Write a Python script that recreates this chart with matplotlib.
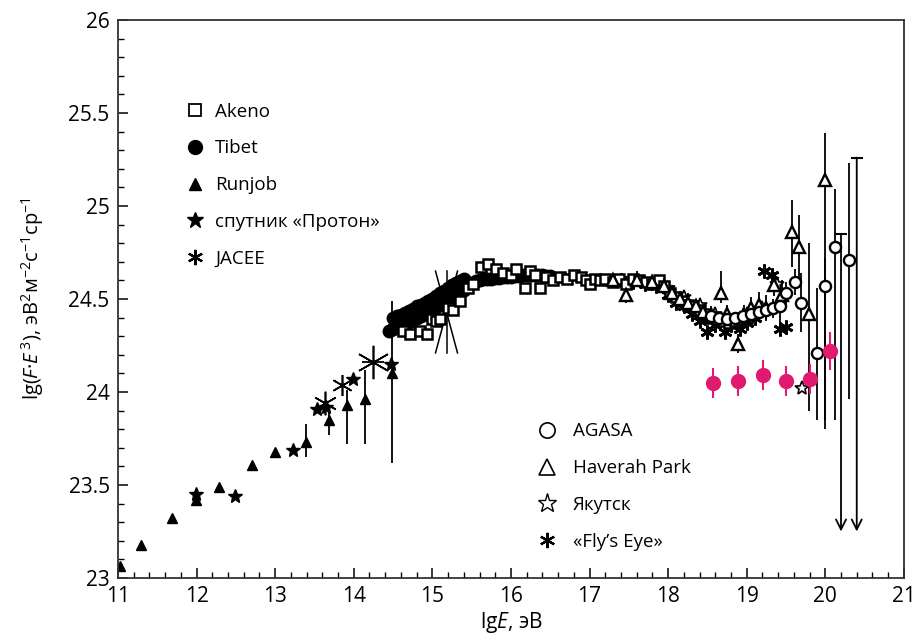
import matplotlib
matplotlib.use('Agg')
import matplotlib.pyplot as plt
from matplotlib.lines import Line2D
from matplotlib.ticker import MultipleLocator

plt.rcParams['font.family'] = ['Open Sans', 'DejaVu Sans']
plt.rcParams['mathtext.fontset'] = 'custom'
plt.rcParams['mathtext.rm'] = 'Open Sans'
plt.rcParams['mathtext.it'] = 'Open Sans:italic'

# --- данные (lg E, lg(F*E^3)) ---
runjob_x = [11.02, 11.29, 11.69, 11.99, 12.29, 12.70, 13.00, 13.39, 13.68, 13.92, 14.14, 14.49]
runjob_y = [23.065, 23.18, 23.32, 23.42, 23.49, 23.61, 23.68, 23.73, 23.85, 23.93, 23.96, 24.10]
runjob_lo = [0, 0, 0, 0, 0, 0, 0, 0.08, 0.08, 0.21, 0.24, 0.48]
runjob_hi = [0, 0, 0, 0, 0, 0, 0, 0.10, 0.07, 0.08, 0.16, 0.39]

proton_x = [11.99, 12.49, 13.23, 13.53, 13.65, 13.99, 14.47]
proton_y = [23.45, 23.44, 23.69, 23.91, 23.92, 24.07, 24.15]

jacee_x = [13.63, 13.85, 14.24, 14.52]
jacee_y = [23.94, 24.04, 24.16, 24.38]
jacee_xerr = [0, 0, 0.14, 0]
jacee_size = [17, 15, 24, 12]
# большие "бабочки" погрешностей JACEE
jacee_bx = [15.18]
jacee_by = [24.43]
jacee_bdx = [0.14]
jacee_bdy = [0.22]

tibet_x = [14.45, 14.50, 14.55, 14.60, 14.65, 14.70, 14.75, 14.80, 14.85, 14.90, 14.95,
           15.00, 15.05, 15.10, 15.15, 15.20, 15.25, 15.30, 15.35, 15.40, 15.45, 15.50,
           15.55, 15.60, 15.65, 15.70, 15.75, 15.80, 15.85, 15.90, 15.95, 16.00, 16.05,
           16.10, 16.15, 16.20, 16.25, 16.30, 16.35, 16.40, 16.45, 16.50]
tibet_y = [24.33, 24.34, 24.35, 24.355, 24.365, 24.375, 24.385, 24.40, 24.41, 24.42, 24.43,
           24.44, 24.455, 24.47, 24.485, 24.50, 24.515, 24.525, 24.535, 24.55, 24.575, 24.585,
           24.595, 24.60, 24.605, 24.61, 24.61, 24.615, 24.615, 24.62, 24.62, 24.62, 24.625,
           24.625, 24.63, 24.63, 24.63, 24.63, 24.63, 24.63, 24.625, 24.625]
tibet2_x = [14.50, 14.55, 14.60, 14.65, 14.70, 14.75, 14.80, 14.85, 14.90, 14.95,
            15.00, 15.05, 15.10, 15.15, 15.20, 15.25, 15.30, 15.35, 15.40]
tibet2_y = [24.40, 24.41, 24.415, 24.425, 24.435, 24.445, 24.46, 24.47, 24.48, 24.49,
            24.50, 24.515, 24.53, 24.545, 24.56, 24.575, 24.585, 24.595, 24.605]

akeno_x = [14.62, 14.71, 14.84, 14.93, 14.99, 15.05, 15.10, 15.20, 15.26, 15.35,
           15.45, 15.52, 15.62, 15.71, 15.81, 15.90, 16.00, 16.07, 16.18, 16.24,
           16.30, 16.37, 16.45, 16.54, 16.62, 16.71, 16.80, 16.89, 16.95, 17.00,
           17.07, 17.13, 17.20, 17.30, 17.38, 17.47, 17.55, 17.63, 17.72, 17.80,
           17.88, 17.95, 18.02, 18.10, 18.18, 18.25, 18.32, 18.40, 18.48, 18.55,
           18.62, 18.70, 18.78, 18.85, 18.92, 19.00]
akeno_y = [24.33, 24.31, 24.33, 24.31, 24.39, 24.38, 24.39, 24.45, 24.44, 24.49,
           24.56, 24.58, 24.67, 24.69, 24.66, 24.64, 24.63, 24.66, 24.56, 24.65,
           24.63, 24.56, 24.62, 24.60, 24.62, 24.61, 24.63, 24.62, 24.60, 24.58,
           24.61, 24.60, 24.61, 24.59, 24.61, 24.58, 24.61, 24.60, 24.59, 24.58,
           24.60, 24.57, 24.53, 24.51, 24.49, 24.47, 24.46, 24.44, 24.42, 24.40,
           24.39, 24.38, 24.37, 24.38, 24.39, 24.40]
akeno_err = 0.02

haverah_x = [17.30, 17.47, 17.60, 17.80, 17.95, 18.05, 18.15, 18.25, 18.35, 18.45, 18.55, 18.67,
             18.75, 18.89, 18.97, 19.05, 19.15, 19.25, 19.35, 19.45, 19.58, 19.67, 19.79, 19.99]
haverah_y = [24.60, 24.52, 24.60, 24.59, 24.57, 24.53, 24.50, 24.48, 24.46, 24.43, 24.41, 24.53,
             24.42, 24.26, 24.41, 24.45, 24.47, 24.45, 24.575, 24.52, 24.86, 24.78, 24.42, 25.14]
haverah_lo = [0.02, 0.04, 0.02, 0.02, 0.02, 0.03, 0.03, 0.04, 0.04, 0.04, 0.04, 0.05,
              0.05, 0.05, 0.05, 0.06, 0.06, 0.07, 0.06, 0.08, 0.19, 0.18, 0.52, 1.34]
haverah_hi = [0.02, 0.04, 0.05, 0.03, 0.06, 0.03, 0.04, 0.05, 0.04, 0.04, 0.05, 0.12,
              0.05, 0.05, 0.06, 0.06, 0.07, 0.07, 0.07, 0.08, 0.17, 0.17, 0.38, 0.25]

agasa_x = [18.55, 18.65, 18.75, 18.85, 18.95, 19.05, 19.15, 19.25, 19.33, 19.42, 19.50,
           19.61, 19.69, 19.90, 19.99, 20.12, 20.30]
agasa_y = [24.41, 24.40, 24.39, 24.40, 24.41, 24.42, 24.43, 24.44, 24.45, 24.46, 24.53,
           24.59, 24.48, 24.21, 24.57, 24.78, 24.71]
agasa_lo = [0.03, 0.03, 0.03, 0.03, 0.04, 0.04, 0.04, 0.05, 0.05, 0.12, 0.06,
            0.07, 0.16, 0.36, 0.72, 0.93, 0.75]
agasa_hi = [0.03, 0.03, 0.03, 0.03, 0.04, 0.04, 0.04, 0.05, 0.05, 0.06, 0.06,
            0.07, 0.16, 0.35, 0.15, 0.31, 0.52]
# верхние пределы AGASA
ul_x = [20.2, 20.4]
ul_top = [24.85, 25.26]
ul_bottom = 23.25

fly_x = [17.40, 17.55, 17.70, 17.85, 18.00, 18.10, 18.20, 18.30, 18.40, 18.50,
         18.60, 18.72, 18.80, 18.91, 19.00, 19.10, 19.22, 19.32, 19.42, 19.50]
fly_y = [24.60, 24.59, 24.58, 24.57, 24.52, 24.48, 24.46, 24.42, 24.38, 24.32,
         24.36, 24.32, 24.36, 24.34, 24.37, 24.40, 24.65, 24.63, 24.34, 24.35]

yak_x = [17.8, 18.0, 18.2, 18.4, 18.6, 18.8, 19.0, 19.2, 19.38, 19.70]
yak_y = [24.58, 24.56, 24.51, 24.47, 24.42, 24.38, 24.42, 24.45, 24.58, 24.02]

# новые данные (розовые точки)
new_x = [18.57, 18.89, 19.21, 19.50, 19.81, 20.06]
new_y = [24.05, 24.06, 24.09, 24.06, 24.07, 24.22]
new_err = [0.08, 0.08, 0.08, 0.08, 0.08, 0.10]

pink = '#e01a6e'
ast = (6, 2, 0)

fig = plt.figure(figsize=(9.17, 6.42), dpi=100)
ax = fig.add_axes([0.1287, 0.0997, 0.857, 0.8692])

eb = dict(ecolor='k', elinewidth=1.3, capsize=0, linestyle='none')

# низкие энергии
ax.errorbar(runjob_x, runjob_y, yerr=[runjob_lo, runjob_hi], marker='^', ms=7,
            mfc='k', mec='k', **eb)
ax.plot(proton_x, proton_y, '*', ms=10, color='k', linestyle='none')
for x, y, xe, s in zip(jacee_x, jacee_y, jacee_xerr, jacee_size):
    ax.errorbar(x, y, xerr=xe, marker=ast, ms=s, mec='k', mew=1.2, **eb)
for x, y, dx, dy in zip(jacee_bx, jacee_by, jacee_bdx, jacee_bdy):
    ax.plot([x - dx, x + dx], [y + dy, y - dy], color='k', lw=1.1)
    ax.plot([x + dx, x - dx], [y + dy, y - dy], color='k', lw=1.1)
    ax.plot([x, x], [y + dy, y - dy], color='k', lw=1.1)

# колено
ax.errorbar(akeno_x, akeno_y, yerr=akeno_err, marker='s', ms=7, mfc='white',
            mec='k', mew=1.8, **eb)
ax.plot(tibet_x, tibet_y, 'o', ms=9, color='k', linestyle='none')
ax.plot(tibet2_x, tibet2_y, 'o', ms=9, color='k', linestyle='none')

# высокие энергии
ax.plot(yak_x, yak_y, marker='*', ms=10, mfc='white', mec='k', mew=1.2, linestyle='none')
ax.errorbar(haverah_x, haverah_y, yerr=[haverah_lo, haverah_hi], marker='^', ms=8,
            mfc='white', mec='k', mew=1.7, **eb)
ax.errorbar(agasa_x, agasa_y, yerr=[agasa_lo, agasa_hi], marker='o', ms=8,
            mfc='white', mec='k', mew=1.7, **eb)
ax.plot(fly_x, fly_y, marker=ast, ms=10, mec='k', mew=2.0, linestyle='none')
for x, top in zip(ul_x, ul_top):
    ax.annotate('', xy=(x, ul_bottom), xytext=(x, top),
                arrowprops=dict(arrowstyle='->', color='k', lw=1.3,
                                mutation_scale=18, shrinkA=0, shrinkB=0))
ax.plot(ul_x, ul_top, '_', ms=9, mew=1.5, color='k', linestyle='none')

ax.errorbar(new_x, new_y, yerr=new_err, marker='o', ms=10, mfc=pink, mec=pink,
            ecolor=pink, elinewidth=1.5, capsize=0, linestyle='none')

ax.set_xlim(11, 21)
ax.set_ylim(23, 26)
ax.xaxis.set_major_locator(MultipleLocator(1))
ax.xaxis.set_minor_locator(MultipleLocator(0.2))
ax.yaxis.set_major_locator(MultipleLocator(0.5))
ax.yaxis.set_minor_locator(MultipleLocator(0.1))
ax.set_yticks([23, 23.5, 24, 24.5, 25, 25.5, 26])
ax.set_yticklabels(['23', '23.5', '24', '24.5', '25', '25.5', '26'])
ax.tick_params(which='major', direction='in', length=7, width=1.1, labelsize=15,
               top=False, right=False, pad=6)
ax.tick_params(which='minor', direction='in', length=4, width=1.0, top=False, right=False)
for sp in ax.spines.values():
    sp.set_linewidth(1.3)
    sp.set_color('#333333')

ax.set_xlabel('lg$E$, эВ', fontsize=15, labelpad=2)
ax.set_ylabel('lg($F$·$E^{\\,3}$), эВ$^2$м$^{-2}$с$^{-1}$ср$^{-1}$', fontsize=14.5, labelpad=16)

h1 = [Line2D([], [], marker='s', ms=9, mfc='white', mec='k', mew=1.3, ls='none'),
      Line2D([], [], marker='o', ms=10, color='k', ls='none'),
      Line2D([], [], marker='^', ms=9, color='k', ls='none'),
      Line2D([], [], marker='*', ms=12, color='k', ls='none'),
      Line2D([], [], marker=ast, ms=11, mec='k', mew=1.6, ls='none')]
l1 = ax.legend(h1, ['Akeno', 'Tibet', 'Runjob', 'спутник «Протон»', 'JACEE'],
               loc='upper left', bbox_to_anchor=(0.064, 0.882), frameon=False,
               fontsize=13.5, handlelength=1.0, handletextpad=0.6, labelspacing=1.0)
ax.add_artist(l1)
h2 = [Line2D([], [], marker='o', ms=11, mfc='white', mec='k', mew=1.2, ls='none'),
      Line2D([], [], marker='^', ms=11, mfc='white', mec='k', mew=1.2, ls='none'),
      Line2D([], [], marker='*', ms=14, mfc='white', mec='k', mew=1.0, ls='none'),
      Line2D([], [], marker=ast, ms=11, mec='k', mew=1.6, ls='none')]
ax.legend(h2, ['AGASA', 'Haverah Park', 'Якутск', '«Fly’s Eye»'],
          loc='upper left', bbox_to_anchor=(0.513, 0.309), frameon=False,
          fontsize=13.5, handlelength=1.0, handletextpad=0.85, labelspacing=1.0)

fig.savefig('out.png', dpi=100)
